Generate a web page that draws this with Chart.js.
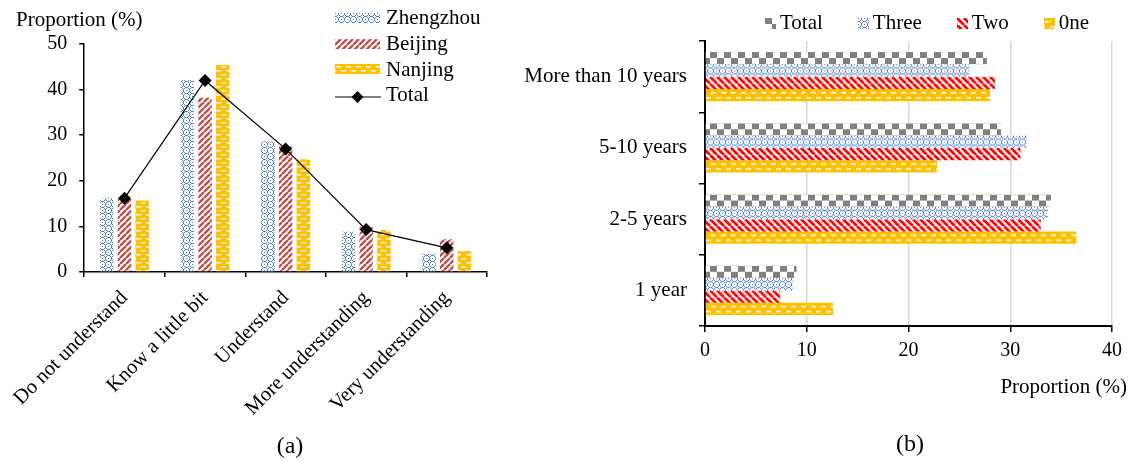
<!DOCTYPE html>
<html><head><meta charset="utf-8">
<script src="https://cdn.jsdelivr.net/npm/chart.js@4.4.0/dist/chart.umd.min.js"></script>
<style>
html,body{margin:0;padding:0;background:#fff;}
body{width:1130px;height:462px;position:relative;overflow:hidden;font-family:'Liberation Serif','Times New Roman',serif;color:#000;}
canvas.chart{position:absolute;top:0;}
#ca{left:0;} #cb{left:500px;}
.txt{position:absolute;white-space:nowrap;line-height:1;}
.lgA{position:absolute;left:335px;height:26px;font-size:21px;line-height:1;white-space:nowrap;}
.lgA canvas{position:absolute;left:0;}
.lgA span{position:absolute;left:51px;top:0;}
#lgB{position:absolute;left:765px;top:11.7px;display:flex;gap:35px;font-size:21px;line-height:1;white-space:nowrap;}
#lgB .it{display:flex;align-items:flex-start;}
#lgB canvas{margin-top:6.6px;margin-right:4px;}
</style></head><body>
<canvas id="ca" class="chart" width="500" height="462"></canvas>
<canvas id="cb" class="chart" width="630" height="462"></canvas>
<div class="txt" style="left:16px;top:9px;font-size:21px;">Proportion (%)</div>
<div class="txt" style="left:1127px;top:376px;font-size:21px;transform:translateX(-100%);">Proportion (%)</div>
<div class="txt" style="left:240px;width:100px;text-align:center;top:433px;font-size:24px;">(a)</div>
<div class="txt" style="left:860px;width:100px;text-align:center;top:431px;font-size:24px;">(b)</div>
<div id="lgA"></div>
<div id="lgB"></div>
<script>
// ---- Panel (a) data ----
const catsA = ['Do not understand','Know a little bit','Understand','More understanding','Very understanding'];
const zhengzhou = [16.2, 42.1, 28.6, 8.8, 4.0];
const beijing   = [16.0, 38.2, 27.5, 9.9, 7.2];
const nanjing   = [15.7, 45.4, 24.7, 9.2, 4.6];
const totalA    = [16.2, 42.0, 27.0, 9.3, 5.3];
const ticksA    = [0, 10, 20, 30, 40, 50];
const seriesNamesA = ['Zhengzhou', 'Beijing', 'Nanjing', 'Total'];

// ---- Panel (b) data ----
const catsB  = ['More than 10 years', '5-10 years', '2-5 years', '1 year'];
const totalB = [27.7, 29.1, 34.0, 9.0];
const threeB = [26.0, 31.6, 33.7, 8.6];
const twoB   = [28.5, 31.0, 33.0, 7.4];
const oneB   = [28.0, 22.8, 36.5, 12.6];
const ticksB = [0, 10, 20, 30, 40];
const seriesNamesB = ['Total', 'Three', 'Two', '0ne'];

Chart.defaults.font.family = "'Liberation Serif','Times New Roman',serif";
Chart.defaults.color = '#000';

function tile(w, h, draw) {
  const c = document.createElement('canvas'); c.width = w; c.height = h;
  const g = c.getContext('2d'); draw(g, w, h); return c;
}
const tiles = {
  blue: tile(6, 6, (g) => {
    g.fillStyle = '#fff'; g.fillRect(0, 0, 6, 6);
    g.fillStyle = '#4f7fcc';
    [[3,1],[2,2],[4,2],[1,3],[5,3],[2,4],[4,4],[3,5],[0,0],[0,3],[3,0]].forEach(p => g.fillRect(p[0], p[1], 1, 1));
  }),
  redUp: tile(6, 6, (g) => {
    g.fillStyle = '#fff'; g.fillRect(0, 0, 6, 6);
    g.strokeStyle = '#C0504D'; g.lineWidth = 2.4; g.beginPath();
    [-6, 0, 6].forEach(x0 => { g.moveTo(x0, 6); g.lineTo(x0 + 6, 0); });
    g.stroke();
  }),
  redDown: tile(7, 7, (g) => {
    g.fillStyle = '#fff'; g.fillRect(0, 0, 7, 7);
    g.strokeStyle = '#FF0000'; g.lineWidth = 2.8; g.beginPath();
    [-7, 0, 7].forEach(x0 => { g.moveTo(x0, 0); g.lineTo(x0 + 7, 7); });
    g.stroke();
  }),
  gold: tile(10, 8, (g) => {
    g.fillStyle = '#FFC000'; g.fillRect(0, 0, 10, 8);
    g.fillStyle = '#fff';
    g.fillRect(1, 2, 5, 1.5); g.fillRect(6, 6, 5, 1.5); g.fillRect(-4, 6, 5, 1.5);
  }),
  goldB: tile(10, 12, (g) => {
    g.fillStyle = '#FFC000'; g.fillRect(0, 0, 10, 12);
    g.fillStyle = '#fff';
    g.fillRect(1, 3, 5, 1.6); g.fillRect(6, 8, 5, 1.6); g.fillRect(-4, 8, 5, 1.6);
  }),
  checker: tile(14, 12, (g) => {
    g.fillStyle = '#fff'; g.fillRect(0, 0, 14, 12);
    g.fillStyle = '#808080'; g.fillRect(0, 0, 7, 6); g.fillRect(7, 6, 7, 6);
  })
};
function pat(ctx, name) { return ctx.createPattern(tiles[name], 'repeat'); }

const ctxA = document.getElementById('ca').getContext('2d');
const ctxB = document.getElementById('cb').getContext('2d');

const fillA = [pat(ctxA, 'blue'), pat(ctxA, 'redUp'), pat(ctxA, 'gold')];
const namesB = ['checker', 'blue', 'redDown', 'goldB'];
const fillB = namesB.map(n => pat(ctxB, n));
const CAT_B = 0.69;
// pattern aligned with the top of each bar (position taken from the category scale)
function alignedB(di) {
  return (c) => {
    const ys = c.chart.scales && c.chart.scales.y;
    if (!ys || c.type !== 'data') return fillB[di];
    const band = Math.abs(ys.getPixelForValue(1) - ys.getPixelForValue(0));
    const top = ys.getPixelForValue(c.dataIndex) - band * CAT_B / 2 + di * band * CAT_B / 4;
    const p = pat(ctxB, namesB[di]);
    p.setTransform(new DOMMatrix([1, 0, 0, 1, 0, top]));
    return p;
  };
}

const chartA = new Chart(ctxA, {
  type: 'bar',
  data: {
    labels: catsA,
    datasets: [
      { label: seriesNamesA[0], data: zhengzhou, backgroundColor: fillA[0], borderWidth: 0, order: 1 },
      { label: seriesNamesA[1], data: beijing, backgroundColor: fillA[1], borderWidth: 0, order: 1 },
      { label: seriesNamesA[2], data: nanjing, backgroundColor: fillA[2], borderWidth: 0, order: 1 },
      { type: 'line', label: seriesNamesA[3], data: totalA, borderColor: '#000', borderWidth: 1.2,
        pointStyle: 'rectRot', pointRadius: 6.5, pointBackgroundColor: '#000', pointBorderColor: '#000',
        pointBorderWidth: 0, tension: 0, fill: false, order: 0 }
    ]
  },
  options: {
    responsive: false, animation: false, events: [],
    layout: { padding: { top: 44, right: 13, left: 0, bottom: 0 } },
    datasets: { bar: { categoryPercentage: 0.66, barPercentage: 0.76 } },
    plugins: { legend: { display: false }, tooltip: { enabled: false } },
    scales: {
      x: {
        afterFit: (s) => { s.height = 190; },
        grid: { offset: true, drawOnChartArea: false, color: '#000', tickColor: '#000', tickLength: 5, lineWidth: 1.5 },
        border: { display: true, color: '#000', width: 1.5 },
        ticks: { autoSkip: false, minRotation: 45, maxRotation: 45, padding: 9, font: { size: 20.5 }, color: '#000' }
      },
      y: {
        min: 0, max: 50,
        afterFit: (s) => { s.width = 84; },
        afterBuildTicks: (s) => { s.ticks = ticksA.map(v => ({ value: v })); },
        grid: { drawOnChartArea: false, color: '#000', tickColor: '#000', tickLength: 5, lineWidth: 1.5 },
        border: { display: true, color: '#000', width: 1.5 },
        ticks: { padding: 12, font: { size: 20 }, color: '#000' }
      }
    }
  }
});

const chartB = new Chart(ctxB, {
  type: 'bar',
  data: {
    labels: catsB,
    datasets: [
      { label: seriesNamesB[0], data: totalB, backgroundColor: alignedB(0), borderWidth: 0 },
      { label: seriesNamesB[1], data: threeB, backgroundColor: alignedB(1), borderWidth: 0 },
      { label: seriesNamesB[2], data: twoB, backgroundColor: alignedB(2), borderWidth: 0 },
      { label: seriesNamesB[3], data: oneB, backgroundColor: alignedB(3), borderWidth: 0 }
    ]
  },
  options: {
    indexAxis: 'y',
    responsive: false, animation: false, events: [],
    layout: { padding: { top: 41, right: 18, left: 0, bottom: 0 } },
    datasets: { bar: { categoryPercentage: CAT_B, barPercentage: 1.0 } },
    plugins: { legend: { display: false }, tooltip: { enabled: false } },
    scales: {
      x: {
        min: 0, max: 40,
        afterFit: (s) => { s.height = 136; },
        afterBuildTicks: (s) => { s.ticks = ticksB.map(v => ({ value: v })); },
        grid: { drawOnChartArea: true, color: '#d9d9d9', tickColor: '#000', tickLength: 6, lineWidth: 1.5 },
        border: { display: true, color: '#000', width: 2 },
        ticks: { padding: 7, font: { size: 20 }, color: '#000' }
      },
      y: {
        afterFit: (s) => { s.width = 205; },
        grid: { offset: true, drawOnChartArea: false, color: '#000', tickColor: '#000', tickLength: 6, lineWidth: 1.5 },
        border: { display: true, color: '#000', width: 2 },
        ticks: { autoSkip: false, padding: 12, font: { size: 21 }, color: '#000' }
      }
    }
  }
});

// ---- HTML legends (swatches filled with the same patterns) ----
function swatch(w, h, fill) {
  const c = document.createElement('canvas'); c.width = w; c.height = h;
  const g = c.getContext('2d'); g.fillStyle = fill; g.fillRect(0, 0, w, h); return c;
}
const lgA = document.getElementById('lgA');
const baselinesA = [25, 50.6, 76.2, 101.8];
seriesNamesA.forEach((name, i) => {
  const row = document.createElement('div'); row.className = 'lgA';
  row.style.top = (baselinesA[i] - 17.6) + 'px';
  let c;
  if (i < 3) {
    c = swatch(45, 10, fillA[i]);
    c.style.top = (17.6 - 11.7) + 'px';
  } else {
    c = document.createElement('canvas'); c.width = 46; c.height = 14;
    const g = c.getContext('2d');
    g.strokeStyle = '#000'; g.lineWidth = 1.2; g.beginPath(); g.moveTo(0, 7); g.lineTo(46, 7); g.stroke();
    g.fillStyle = '#000'; g.beginPath(); g.moveTo(22.5, 1); g.lineTo(28.5, 7); g.lineTo(22.5, 13); g.lineTo(16.5, 7); g.closePath(); g.fill();
    c.style.top = (17.6 - 5 - 7) + 'px';
  }
  const sp = document.createElement('span'); sp.textContent = name;
  row.appendChild(c); row.appendChild(sp); lgA.appendChild(row);
});
const lgB = document.getElementById('lgB');
seriesNamesB.forEach((name, i) => {
  const it = document.createElement('div'); it.className = 'it';
  const c = swatch(11, 11, fillB[i]);
  const sp = document.createElement('span'); sp.textContent = name;
  it.appendChild(c); it.appendChild(sp); lgB.appendChild(it);
});
</script>
</body></html>
